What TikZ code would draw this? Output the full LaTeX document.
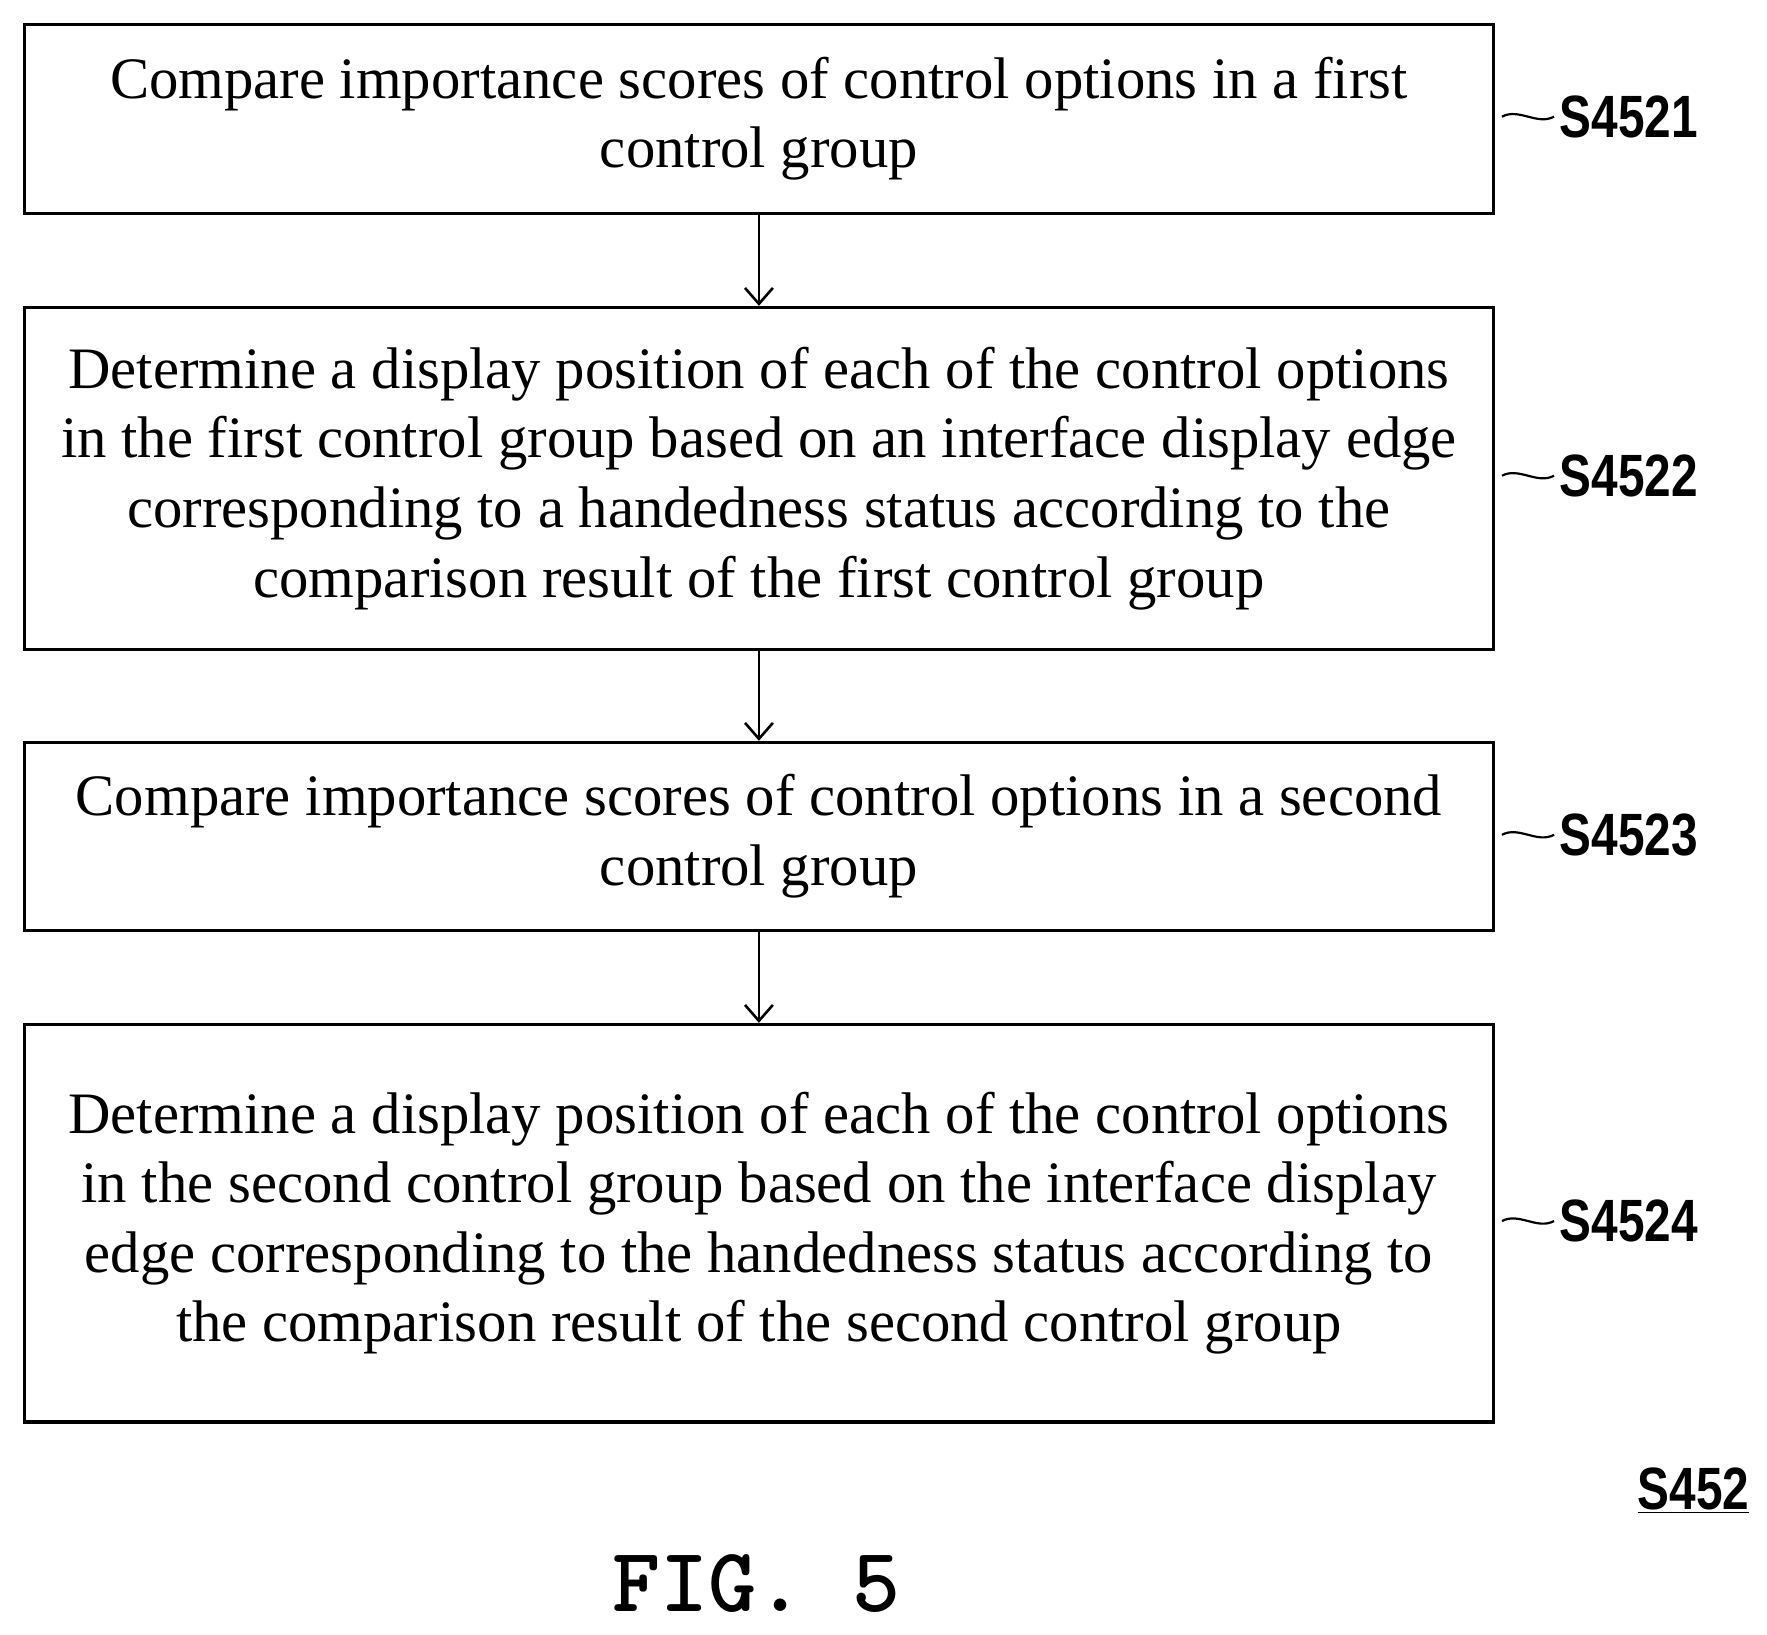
\documentclass[tikz,border=0pt]{standalone}
\usepackage{fontspec}
\setmainfont{Liberation Serif}
\setsansfont{Liberation Sans}
\usetikzlibrary{arrows.meta}
\begin{document}
\begin{tikzpicture}[x=0.02cm,y=-0.02cm,
  box/.style={draw,line width=1.6pt,minimum width=25.95cm,anchor=north west,inner sep=0pt,align=center,font=\fontsize{29.5}{35}\selectfont},
  lab/.style={font=\sffamily\bfseries\fontsize{30}{30}\selectfont,xscale=0.8,anchor=west},
  arr/.style={-{Straight Barb[length=8pt,width=14pt]},line width=1.3pt},
  tl/.style={line width=1.1pt}]
\useasboundingbox (0,0) rectangle (1560,1443);
\node[box,minimum height=3.34cm] (b1) at (20,20) {Compare importance scores of control options in a first\\control group};
\node[box,minimum height=6.04cm] (b2) at (20,270) {Determine a display position of each of the control options\\in the first control group based on an interface display edge\\corresponding to a handedness status according to the\\comparison result of the first control group};
\node[box,minimum height=3.32cm] (b3) at (20,654) {Compare importance scores of control options in a second\\control group};
\node[box,minimum height=7.02cm] (b4) at (20,903) {Determine a display position of each of the control options\\in the second control group based on the interface display\\edge corresponding to the handedness status according to\\the comparison result of the second control group};
\draw[arr] (b1) -- (b2);
\draw[arr] (b2) -- (b3);
\draw[arr] (b3) -- (b4);
\foreach \n/\t/\y in {1/S4521/103,2/S4522/420,3/S4523/737,4/S4524/1078}{
  \node[lab] (l\n) at (1372,\y) {\t};
  \coordinate (c\n) at (1326,\y);
  \draw[tl] (c\n) .. controls (1341,\y-8) and (1357,\y+8) .. (l\n.west);
}
\node[font=\sffamily\bfseries\fontsize{30}{30}\selectfont,xscale=0.8] (s) at (1495,1316) {\underline{S452}};
\node[font=\ttfamily\bfseries\fontsize{46}{46}\selectfont] (fig) at (668,1398) {FIG. 5};
\end{tikzpicture}
\end{document}
